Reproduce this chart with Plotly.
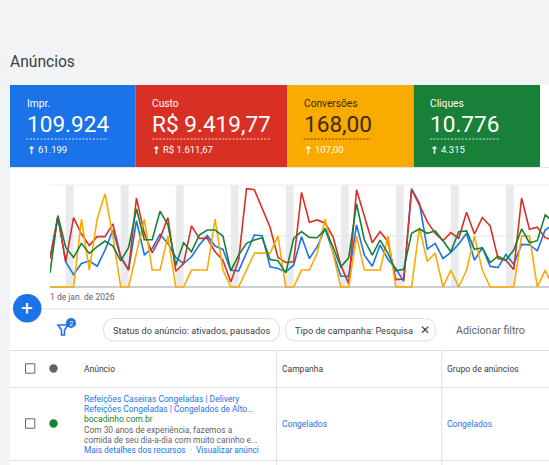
import plotly.graph_objects as go
import pandas as pd

W, H = 549, 465

start_date = "2026-01-01"
impressions = [1105,2730,975,481,910,1014,806,1430,2210,1144,650,2574,1248,1495,2041,1690,1144,910,1170,1625,1989,1586,1456,650,624,1300,2015,1989,780,715,585,845,1950,1105,1560,2275,1365,416,416,2405,1235,806,1625,1066,715,221,3809,3250,1469,1690,1105,1339,1664,2080,1040,1521,806,754,1261,884,1651,1638,1404,2210,2405]
cost = [85,210,75,207,158,124,150,150,188,90,52,265,160,102,145,207,47,70,182,145,145,105,80,15,80,293,290,235,178,88,73,75,282,193,200,190,150,65,10,290,210,132,165,135,22,24,290,245,195,160,138,162,145,223,158,207,182,85,80,52,265,172,178,147,140]
conversions = [0,0,0,0,4,1,4,5.5,3,0,0,2,4,1,1,3,0,0,1,1,1,4,1,0,0,1,2,2,2,3,0,0,1,1,2,4,2,0,0,3,1,1,1,3,0,0,0,3.5,1.5,2,0,1,0,1,3,1,0,0,0,0,3,3,0,1,0]
clicks = [42,213,118,88,130,100,120,137,122,78,118,233,141,141,226,185,65,132,105,155,170,170,152,48,95,130,140,147,82,78,42,145,165,148,147,172,120,60,87,248,140,95,140,100,48,53,160,173,160,167,138,105,165,167,112,117,73,92,80,110,173,132,138,215,195]

card_labels = ["Impr.", "Custo", "Conversões", "Cliques"]
card_values = ["109.924", "R$ 9.419,77", "168,00", "10.776"]
card_deltas = ["61.199", "R$ 1.611,67", "107,00", "4.315"]
card_colors = ["#1a73e8", "#d93025", "#f9ab00", "#188038"]
card_text = ["#ffffff", "#ffffff", "#3c2a00", "#ffffff"]
card_edges = [10, 135.7, 287.3, 413.7, 540]

dates = pd.date_range(start_date, periods=len(cost), freq="D")
PX_DAY = 7.86
PLOT_L, PLOT_T, PLOT_B = 50, 185, 287
PAD = 2  # px of room under the baseline so zero-value lines are not cut in half
SPAN = PLOT_B - PLOT_T


def px(x):
    return x / W


def py(y):
    return 1 - y / H


fig = go.Figure()
series = [
    ("Impr.", impressions, "#1a73e8", "y"),
    ("Custo", cost, "#d93025", "y2"),
    ("Conversões", conversions, "#f9ab00", "y3"),
    ("Cliques", clicks, "#188038", "y4"),
]
for name, vals, color, axis in series:
    fig.add_trace(go.Scatter(x=dates, y=vals, name=name, mode="lines", yaxis=axis,
                             line=dict(color=color, width=1.6), cliponaxis=True))

shapes = []
annots = []


def rect(x0, y0, x1, y1, fill, layer="below"):
    shapes.append(dict(type="rect", xref="paper", yref="paper", x0=px(x0), x1=px(x1), y0=py(y0), y1=py(y1),
                       fillcolor=fill, line=dict(width=0), layer=layer))


def hline(x0, x1, y, color="#e0e0e0", dash="solid", width=1, layer="below"):
    shapes.append(dict(type="line", xref="paper", yref="paper", x0=px(x0), x1=px(x1), y0=py(y), y1=py(y),
                       line=dict(color=color, width=width, dash=dash), layer=layer))


def vline(x, y0, y1, color="#e0e0e0", width=1):
    shapes.append(dict(type="line", xref="paper", yref="paper", x0=px(x), x1=px(x), y0=py(y0), y1=py(y1),
                       line=dict(color=color, width=width), layer="below"))


def text(x, y, s, size=10, color="#3c4043", anchor="left", family="Roboto"):
    if anchor == "left":
        x -= 0.8  # annotation boxes keep a little inner padding
    annots.append(dict(xref="paper", yref="paper", x=px(x), y=py(y + 0.7), text=s, showarrow=False,
                       xanchor=anchor, yanchor="middle", borderpad=0, align="left",
                       font=dict(family=family, size=size, color=color)))


def chip(x0, y0, x1, y1):
    r = (y1 - y0) / 2
    p = (f"M {px(x0 + r)} {py(y0)} L {px(x1 - r)} {py(y0)} Q {px(x1)} {py(y0)} {px(x1)} {py(y0 + r)} "
         f"Q {px(x1)} {py(y1)} {px(x1 - r)} {py(y1)} L {px(x0 + r)} {py(y1)} "
         f"Q {px(x0)} {py(y1)} {px(x0)} {py(y0 + r)} Q {px(x0)} {py(y0)} {px(x0 + r)} {py(y0)} Z")
    shapes.append(dict(type="path", xref="paper", yref="paper", path=p,
                       line=dict(color="#dadce0", width=1), fillcolor="#ffffff", layer="below"))


# page backdrop
rect(0, 0, W, 85, "#f1f3f4")
rect(0, 0, 10, H, "#f1f3f4")
rect(10, 167, W, H, "#ffffff")
hline(10, W, 167.5, color="#e3e4e6")

text(10, 61, "Anúncios", size=15.6, color="#3c4043")

# score cards
for i in range(4):
    x0, x1 = card_edges[i], card_edges[i + 1]
    c = card_text[i]
    rect(x0, 85, x1, 167, card_colors[i])
    text(x0 + 16.5, 103, card_labels[i], size=10.2, color=c)
    text(x0 + 16.5, 124, card_values[i], size=22.6, color=c)
    w = {0: 81, 1: 118, 2: 67, 3: 69}[i]
    hline(x0 + 16.5, x0 + 16.5 + w, 139, color=c, dash="2px,1.5px", width=0.8)
    text(x0 + 16.5, 149, "<b>↑</b>", size=10.5, color="#ffffff", family="DejaVu Sans")
    text(x0 + 27.5 if i != 1 else x0 + 27, 149, card_deltas[i], size=9.5, color="#ffffff")

# weekend bands, from the dates themselves
sat_dates = [d for d in dates if d.weekday() == 5]
for d in sat_dates:
    shapes.append(dict(type="rect", xref="x", yref="paper", x0=d, x1=d + pd.Timedelta(days=1),
                       y0=py(PLOT_B), y1=py(PLOT_T), fillcolor="#e8eaed", line=dict(width=0), layer="below"))

# chart grid
hline(PLOT_L, W, PLOT_T, color="#eeeeee")
hline(PLOT_L, W, 236, color="#e6e6e6")
hline(PLOT_L, W, PLOT_B, color="#9aa0a6", width=1.2)
text(50, 296, "1 de jan. de 2026", size=8.5, color="#5f6368")

# filter row
hline(10, W, 309)
hline(10, W, 350.5)
hline(10, W, 387.5)
hline(10, W, 460.5)
vline(276.5, 350.5, H)
vline(441.7, 350.5, H)

chip(103.5, 318.5, 279.5, 341)
chip(285.5, 318.5, 435.5, 341)
text(112.5, 329.5, "Status do anúncio: ativados, pausados", size=9.2)
text(294.5, 329.5, "Tipo de campanha: Pesquisa", size=9.2)
text(424.5, 329.5, "✕", size=12, color="#3c4043", anchor="center", family="DejaVu Sans")
text(455.5, 329.5, "Adicionar filtro", size=10.6, color="#5f6368")

# funnel icon + badge
shapes.append(dict(type="path", xref="paper", yref="paper",
                   path=f"M {px(58)} {py(325)} L {px(68)} {py(325)} L {px(64.5)} {py(330)} L {px(64.5)} {py(335)} L {px(61.5)} {py(335)} L {px(61.5)} {py(330)} Z",
                   fillcolor="rgba(0,0,0,0)", line=dict(color="#1a73e8", width=1.6)))
shapes.append(dict(type="circle", xref="paper", yref="paper", x0=px(66), x1=px(76), y0=py(318), y1=py(328),
                   fillcolor="#1a73e8", line=dict(width=0)))
text(71, 323, "2", size=7.5, color="#ffffff", anchor="center")

# floating add button
shapes.append(dict(type="circle", xref="paper", yref="paper", x0=px(13), x1=px(41.5), y0=py(294), y1=py(322.5),
                   fillcolor="#1a73e8", line=dict(width=0), layer="above"))
text(27.3, 307.3, "+", size=21, color="#ffffff", anchor="center", family="Roboto")

# table header
for cy in (368.5, 423.5):
    shapes.append(dict(type="rect", xref="paper", yref="paper", x0=px(25.5), x1=px(34.8), y0=py(cy - 4.7), y1=py(cy + 4.7),
                       line=dict(color="#5f6368", width=1), fillcolor="#ffffff", layer="below"))
shapes.append(dict(type="circle", xref="paper", yref="paper", x0=px(49.3), x1=px(57.7), y0=py(364.3), y1=py(372.7),
                   fillcolor="#5f6368", line=dict(width=0)))
shapes.append(dict(type="circle", xref="paper", yref="paper", x0=px(49.3), x1=px(57.7), y0=py(419.3), y1=py(427.7),
                   fillcolor="#188038", line=dict(width=0)))
text(83.5, 368.5, "Anúncio", size=8.5)
text(282, 368.5, "Campanha", size=8.5)
text(447, 368.5, "Grupo de anúncios", size=8.6)

blue_text = "#1a73e8"
text(83.5, 398, "Refeições Caseiras Congeladas | Delivery", size=8.5, color=blue_text)
text(83.5, 408.3, "Refeições Congeladas | Congelados de Alto...", size=8.45, color=blue_text)
text(83.5, 418.5, "bocadinho.com.br", size=8.5, color="#188038")
text(83.5, 429, "Com 30 anos de experiência, fazemos a", size=8.4, color="#5f6368")
text(83.5, 439, "comida de seu dia-a-dia com muito carinho e...", size=8.4, color="#5f6368")
text(83.5, 449.5, "Mais detalhes dos recursos  ·  Visualizar anúnci", size=8.3, color=blue_text)
text(282, 423.5, "Congelados", size=8.5, color=blue_text)
text(447, 423.5, "Congelados", size=8.5, color=blue_text)

x_end = pd.Timestamp(start_date) + pd.Timedelta(days=(W - PLOT_L) / PX_DAY)
yaxis_common = dict(visible=False, domain=[py(PLOT_B + PAD), py(PLOT_T)], fixedrange=True)


def yrange(top):
    return [-top * PAD / SPAN, top]


fig.update_layout(
    width=W, height=H, margin=dict(l=0, r=0, t=0, b=0, pad=0),
    paper_bgcolor="#ffffff", plot_bgcolor="rgba(0,0,0,0)", showlegend=False,
    xaxis=dict(visible=False, domain=[px(PLOT_L), 1], range=[pd.Timestamp(start_date), x_end], type="date"),
    yaxis=dict(yaxis_common, range=yrange(3952)),
    yaxis2=dict(yaxis_common, range=yrange(304), overlaying="y"),
    yaxis3=dict(yaxis_common, range=yrange(6.02), overlaying="y"),
    yaxis4=dict(yaxis_common, range=yrange(304), overlaying="y"),
    shapes=shapes, annotations=annots,
)
fig.write_html("out.html", config={"displayModeBar": False},
               post_script="document.body.style.margin='0';document.body.style.overflow='hidden';")
